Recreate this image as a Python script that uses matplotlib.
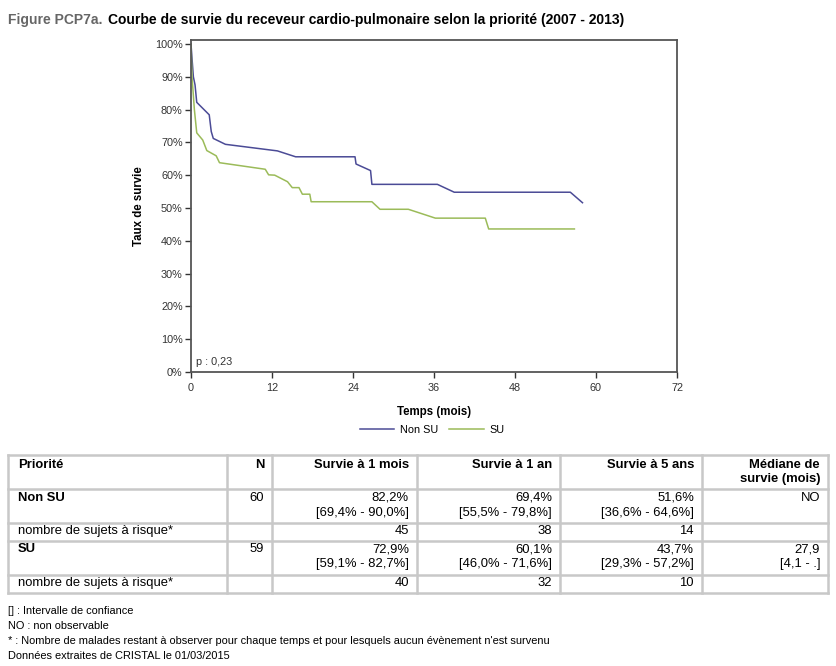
import matplotlib
matplotlib.use("Agg")
import matplotlib.pyplot as plt

plt.rcParams['font.family'] = ['Liberation Sans', 'DejaVu Sans']

# courbes de survie (mois, %)
t_nonsu = [0, 0.1, 0.35, 0.6, 0.85, 2.7, 3.0, 3.3, 5.1, 12.8, 15.5, 24.3, 24.45,
           26.6, 26.8, 36.5, 39.0, 56.2, 58.0]
s_nonsu = [100, 97, 90.0, 87.5, 82.2, 78.4, 73.3, 71.2, 69.4, 67.4, 65.6, 65.6, 63.4,
           61.4, 57.2, 57.2, 54.8, 54.8, 51.6]

t_su = [0, 0.15, 0.5, 0.85, 1.74, 2.34, 3.73, 4.22, 11.0, 11.5, 12.4, 14.3, 15.0,
        16.0, 16.5, 17.6, 17.8, 26.8, 28.0, 32.2, 36.2, 43.6, 44.1, 56.8]
s_su = [100, 90, 80, 72.9, 70.7, 67.5, 65.9, 63.8, 61.8, 60.1, 60.0, 58.0, 56.2,
        56.2, 54.2, 54.2, 51.9, 51.9, 49.6, 49.6, 46.9, 46.9, 43.6, 43.6]

x_ticks = [0, 12, 24, 36, 48, 60, 72]
y_ticks = [0, 10, 20, 30, 40, 50, 60, 70, 80, 90, 100]

# tableau
col_heads = ["Priorité", "N", "Survie à 1 mois", "Survie à 1 an", "Survie à 5 ans"]
rows = [
    ["Non SU", "60", "82,2%\n[69,4% - 90,0%]", "69,4%\n[55,5% - 79,8%]", "51,6%\n[36,6% - 64,6%]", "NO"],
    ["nombre de sujets à risque*", "", "45", "38", "14", ""],
    ["SU", "59", "72,9%\n[59,1% - 82,7%]", "60,1%\n[46,0% - 71,6%]", "43,7%\n[29,3% - 57,2%]", "27,9\n[4,1 - .]"],
    ["nombre de sujets à risque*", "", "40", "32", "10", ""],
]
notes = ["[] : Intervalle de confiance",
         "NO : non observable",
         "* : Nombre de malades restant à observer pour chaque temps et pour lesquels aucun évènement n'est survenu",
         "Données extraites de CRISTAL le 01/03/2015"]

W, H = 836, 666
fig = plt.figure(figsize=(W / 100, H / 100), dpi=100)


def fx(px):
    return px / W


def fy(py):
    return 1 - py / H


# titre
fig.text(fx(8), fy(20), "Figure PCP7a.", color="#666666", fontsize=10, fontweight="bold", va="center")
fig.text(fx(108), fy(20), "Courbe de survie du receveur cardio-pulmonaire selon la priorité (2007 - 2013)",
         color="black", fontsize=10, fontweight="bold", va="center")

ax = fig.add_axes([fx(191), fy(372), fx(677) - fx(191), fy(40) - fy(372)])
ax.plot(t_nonsu, s_nonsu, color="#4b4b96", lw=1.1, label="Non SU")
ax.plot(t_su, s_su, color="#9bbb59", lw=1.1, label="SU")
ax.set_xlim(0, 72)
ax.set_ylim(0, 101.2)
ax.set_xticks(x_ticks)
ax.set_yticks(y_ticks)
ax.set_yticklabels([f"{v}%" for v in y_ticks])
for s in ax.spines.values():
    s.set_color("#555555")
    s.set_linewidth(1.3)
ax.tick_params(colors="#333333", labelsize=7.8, length=4, width=1, direction="out", pad=2)
ax.tick_params(axis="x", pad=4)
ax.set_xlabel("Temps (mois)", fontsize=8.3, fontweight="bold", labelpad=9)
ax.set_ylabel("Taux de survie", fontsize=8.3, fontweight="bold", labelpad=7)
ax.text(0.8, 3, "p : 0,23", fontsize=7.8, color="#333333", va="center")

fig.legend(loc="center", bbox_to_anchor=(fx(432), fy(430)), ncol=2, frameon=False,
           fontsize=7.8, handlelength=3.2, columnspacing=1.0, handletextpad=0.5)

# lignes du tableau
xs = [8, 227, 272, 417, 560, 702, 828]
ys = [455, 489, 523, 541, 575, 593]
gcol = "#c8c8c8"
for y in ys:
    fig.add_artist(plt.Line2D([fx(xs[0]), fx(xs[-1])], [fy(y), fy(y)], color=gcol, lw=1.8))
for x in xs:
    fig.add_artist(plt.Line2D([fx(x), fx(x)], [fy(ys[0]), fy(ys[-1])], color=gcol, lw=1.8))

fs = 9.4
fig.text(fx(18), fy(459), col_heads[0], fontsize=fs, fontweight="bold", va="top")
for i, h in enumerate(col_heads[1:], start=1):
    fig.text(fx(xs[i + 1] - 8), fy(459), h, fontsize=fs, fontweight="bold", va="top", ha="right")
fig.text(fx(xs[6] - 8), fy(459), "Médiane de\nsurvie (mois)", fontsize=fs, fontweight="bold",
         va="top", ha="right", linespacing=1.2)

row_tops = [492, 525, 543, 577]
for r, row in enumerate(rows):
    y = fy(row_tops[r])
    bold = r in (0, 2)
    fig.text(fx(18), y, row[0], fontsize=fs, va="top", fontweight="bold" if bold else "normal")
    for c in range(1, 6):
        fig.text(fx(xs[c + 1] - 8), y, row[c], fontsize=fs, va="top", ha="right", linespacing=1.3)

for i, n in enumerate(notes):
    fig.text(fx(8), fy(611 + 15 * i), n, fontsize=7.9, va="center")

fig.savefig("out.png", dpi=100)
